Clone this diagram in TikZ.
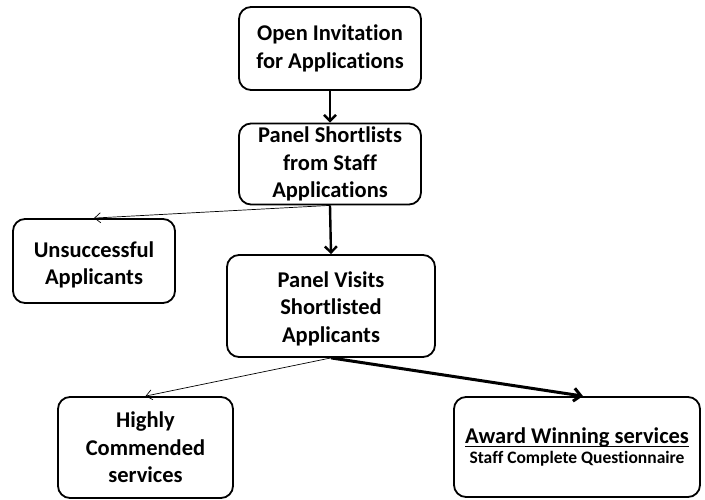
\documentclass[tikz,border=0pt]{standalone}
\usepackage{fontspec}
\setmainfont[Ligatures=NoCommon]{Carlito}
\usetikzlibrary{arrows.meta}
\newcommand{\myul}[1]{\setbox0\hbox{#1}\rlap{\rule[-4pt]{\wd0}{1.3pt}}\box0}
\begin{document}
\begin{tikzpicture}[x=1pt,y=-1pt,
  box/.style={draw,line width=1.8pt,rounded corners=12pt,align=center,
    font=\bfseries\fontsize{22.5}{27.5}\selectfont,inner sep=0pt},
  thin/.style={-{Straight Barb[length=6pt,width=10pt]},line width=0.7pt},
  thick/.style={-{Straight Barb[length=6pt,width=12pt]},line width=2.4pt},
  thicker/.style={-{Straight Barb[length=7pt,width=13pt]},line width=3pt}]
\useasboundingbox (0,0) rectangle (705,500);
\node[box,minimum width=182pt,minimum height=83pt] (open) at (330,48.5) {Open Invitation\\for Applications};
\node[box,minimum width=182pt,minimum height=81pt] (short) at (330,164) {Panel Shortlists\\from Staff\\Applications};
\node[box,minimum width=162pt,minimum height=84pt] (unsuc) at (94,261) {\rule{0pt}{24pt}Unsuccessful\\Applicants};
\node[box,minimum width=208pt,minimum height=102pt] (visit) at (331,306) {\rule{0pt}{21pt}Panel Visits\\Shortlisted\\Applicants};
\node[box,minimum width=175pt,minimum height=101pt] (high) at (145.5,447.5) {Highly\\Commended\\services};
\node[box,minimum width=246pt,minimum height=100pt] (award) at (577,447) {\myul{Award Winning services}\\[-7pt]{\fontsize{17.5}{20}\selectfont Staff Complete Questionnaire}};
\draw[thick] (open.south) -- (short.north);
\draw[thick] (short.south) -- (visit.north);
\draw[thin] (short.south) -- (unsuc.north);
\draw[thin] (visit.south) -- (high.north);
\draw[thicker] (visit.south) -- ([xshift=6pt]award.north);
\end{tikzpicture}
\end{document}
